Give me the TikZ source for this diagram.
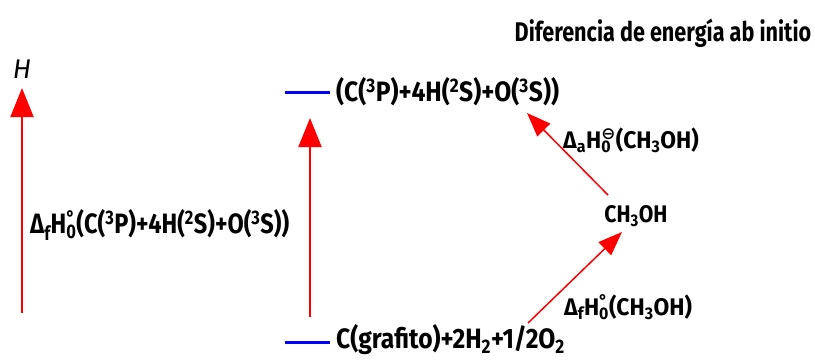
\documentclass[tikz,border=0pt]{standalone}
\usepackage{fontspec}
\newfontfamily\cf{Fira Sans}[FakeStretch=0.88]
\newfontfamily\cfl{Fira Sans}[FakeStretch=0.84]
\newfontfamily\cfd{Fira Sans}[FakeStretch=0.95]
\newfontfamily\itf{Fira Sans}
\newfontfamily\ttl{Fira Sans}[FakeStretch=0.8]
\newfontfamily\dv{DejaVu Sans}
\usetikzlibrary{arrows.meta}
\newcommand{\stk}[2]{{\setbox0=\hbox{\textsuperscript{#1}}\setbox2=\hbox{\textsubscript{#2}}%
  \ifdim\wd0>\wd2 \dimen0=\wd0 \else \dimen0=\wd2 \fi
  \hbox to\dimen0{\box0\hss}\kern-\dimen0\hbox to\dimen0{\box2\hss}}}
\newcommand{\Hst}{H\stk{°}{0}}
\newcommand{\Hstm}{H\stk{\dv\bfseries ⊖}{0}}
\begin{document}
\begin{tikzpicture}[x=1pt,y=-1pt,
  lbl/.style={inner sep=0pt, font=\cf\bfseries\fontsize{28}{30}\selectfont},
  llbl/.style={inner sep=0pt, font=\cfl\bfseries\fontsize{28}{30}\selectfont},
  slbl/.style={inner sep=0pt, font=\cf\bfseries\fontsize{24}{26}\selectfont},
  dlbl/.style={inner sep=0pt, font=\cfd\bfseries\fontsize{24}{26}\selectfont},
  level/.style={draw=blue, line width=3pt},
  bigarrow/.style={draw=red, line width=2pt, -{Triangle[length=29pt,width=23pt]}},
  diagarrow/.style={draw=red, line width=1.5pt, -{Triangle[length=24pt,width=18pt]}}]
\useasboundingbox (0,0) rectangle (815,360);
% title
\node[inner sep=0pt, font=\ttl\bfseries\fontsize{27}{30}\selectfont] (title) at (663,33) {Diferencia de energía ab initio};
% H axis
\node[inner sep=0pt, font=\itf\itshape\fontsize{27}{28}\selectfont] (Hax) at (22,69) {H};
\coordinate (axbot) at (22,313);
\coordinate (axtop) at (22,88);
\draw[bigarrow] (axbot) -- (axtop);
\node[llbl, anchor=west] (dfatoms) at (30,225) {Δ\textsubscript{f}\Hst(C(\textsuperscript{3}P)+4H(\textsuperscript{2}S)+O(\textsuperscript{3}S))};
% levels
\coordinate (topl) at (285,92);
\coordinate (topr) at (330,92);
\draw[level] (topl) -- (topr);
\node[lbl, anchor=west] (atoms) at (336,92) {(C(\textsuperscript{3}P)+4H(\textsuperscript{2}S)+O(\textsuperscript{3}S))};
\coordinate (botl) at (285,342);
\coordinate (botr) at (330,342);
\draw[level] (botl) -- (botr);
\node[lbl, anchor=west] (elem) at (336,340) {C(grafito)+2H\textsubscript{2}+1/2O\textsubscript{2}};
% middle arrow
\coordinate (mbot) at (310,317);
\coordinate (mtop) at (310,118);
\draw[bigarrow] (mbot) -- (mtop);
% methanol
\node[slbl] (meoh) at (636,216) {CH\textsubscript{3}OH};
\coordinate (ustart) at (608,195);
\coordinate (uend) at (527,113);
\draw[diagarrow] (ustart) -- (uend);
\node[dlbl, anchor=west] (dah) at (563,140) {Δ\textsubscript{a}\Hstm(CH\textsubscript{3}OH)};
\coordinate (lstart) at (528,323);
\coordinate (lend) at (622,232);
\draw[diagarrow] (lstart) -- (lend);
\node[dlbl, anchor=west] (dfh) at (564,307) {Δ\textsubscript{f}\Hst(CH\textsubscript{3}OH)};
\end{tikzpicture}
\end{document}
